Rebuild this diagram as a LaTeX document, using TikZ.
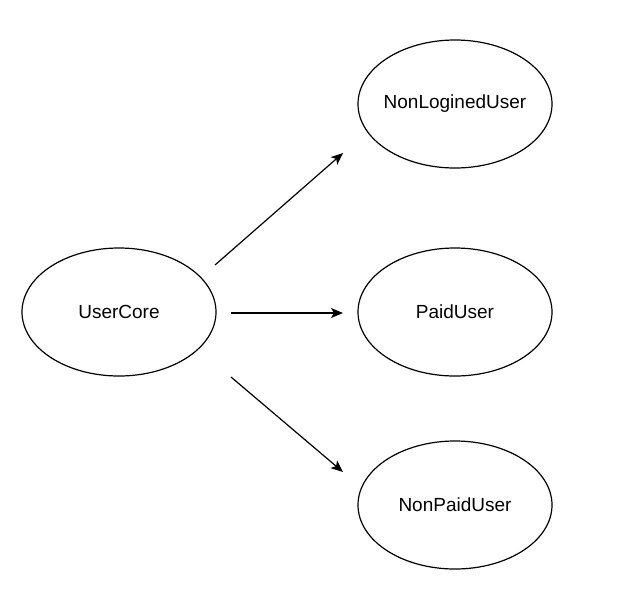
\documentclass[tikz,border=0pt]{standalone}
\usepackage{fontspec}
\setmainfont{Liberation Sans}
\usetikzlibrary{shapes.geometric,arrows.meta}
\tikzset{
  ell/.style={draw=black, line width=1.2pt, ellipse, minimum width=194pt, minimum height=128pt, inner xsep=-15pt, inner ysep=0pt, font=\fontsize{19}{22}\selectfont},
  conn/.style={draw=black, line width=1.2pt, -{Stealth[length=12pt,width=10pt,inset=3pt]}}
}
\begin{document}
\begin{tikzpicture}[x=1pt,y=-1pt]
\useasboundingbox (0,0) rectangle (642,598);
\node[ell] (uc) at (119,312) {UserCore};
\node[ell] (nl) at (455,104) {NonLoginedUser};
\node[ell] (pu) at (455,312) {PaidUser};
\node[ell] (np) at (455,505) {NonPaidUser};
\coordinate (s1) at (215,265);
\coordinate (e1) at (343,153);
\coordinate (s2) at (231,313);
\coordinate (e2) at (343,313);
\coordinate (s3) at (231,377);
\coordinate (e3) at (343,472);
\draw[conn] (s1) -- (e1);
\draw[conn] (s2) -- (e2);
\draw[conn] (s3) -- (e3);
\end{tikzpicture}
\end{document}
